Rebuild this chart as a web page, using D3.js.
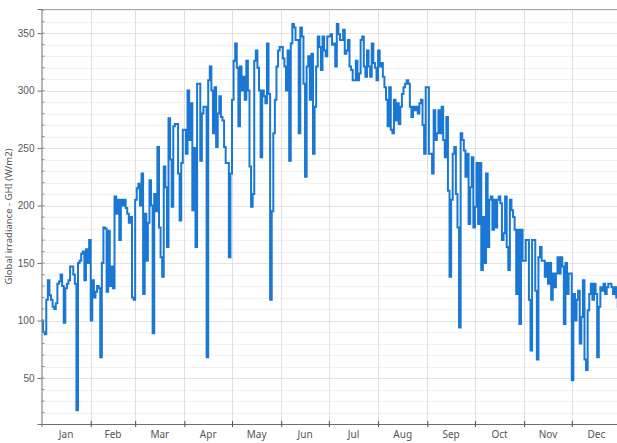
<!DOCTYPE html>
<html><head><meta charset="utf-8">
<script src="https://cdn.jsdelivr.net/npm/d3@7"></script>
<style>
html,body{margin:0;padding:0;background:#fff;}
svg{display:block;font-family:"Noto Sans","Open Sans",sans-serif;}
</style></head>
<body><div id="chart"></div>
<script>
// Daily global irradiance GHI (W/m2), one array per month
const jan = [100,90,88,118,135,122,118,112,110,115,132,134,140,130,98,128,132,135,147,147,140,132,22,150,152,158,160,135,162,150,170];
const feb = [100,135,120,125,130,128,68,150,181,180,125,178,130,147,128,208,193,205,170,205,200,205,198,193,185,190,120,118];
const mar = [205,215,219,200,228,123,193,152,185,222,200,89,210,195,251,181,155,138,234,216,164,276,240,199,269,271,271,228,187,237,266];
const apr = [266,245,300,257,289,196,250,164,306,306,239,280,286,286,68,309,321,300,263,303,251,280,295,277,274,251,237,237,155,228];
const may = [292,326,341,320,269,321,300,312,292,326,300,234,199,210,326,335,320,300,242,300,295,289,341,297,118,195,263,292,321,335,338];
const jun = [338,328,321,300,335,239,341,358,355,344,344,263,355,347,306,225,321,330,292,332,245,286,321,347,338,318,347,335,330,347];
const jul = [347,349,340,341,321,358,349,344,344,353,332,335,344,321,318,309,309,326,309,315,344,347,321,312,335,321,312,341,324,320,309];
const aug = [335,321,324,312,303,292,269,303,266,263,292,274,289,271,286,297,303,306,309,306,286,277,286,283,286,280,289,292,270,245,303];
const sep = [303,245,245,228,283,257,263,283,263,286,257,242,277,213,138,205,245,251,210,181,94,263,257,248,225,245,184,216,242,181];
const oct = [199,237,184,237,144,190,150,228,164,205,208,179,205,181,205,208,202,170,176,208,164,144,205,196,190,179,123,179,97,179,152];
const nov = [152,170,170,118,74,170,170,126,66,155,164,152,152,138,150,132,150,118,141,129,141,155,141,155,147,97,150,123,141,141];
const dec = [48,123,100,118,126,80,103,135,66,57,109,123,132,118,132,123,68,112,129,126,132,123,129,132,132,129,123,129,120,112,125];

const months = ["Jan","Feb","Mar","Apr","May","Jun","Jul","Aug","Sep","Oct","Nov","Dec"];
const monthDays = [31,28,31,30,31,30,31,31,30,31,30,31];
const yTicks = [50,100,150,200,250,300,350];

const values = [].concat(jan,feb,mar,apr,may,jun,jul,aug,sep,oct,nov,dec);
const data = values.map((v,i)=>({day:i,v:v}));
data.push({day:values.length, v:values[values.length-1]});

const W=617,H=443;
const m={left:41.5,top:9,bottom:424,right:621};
const svg=d3.select("#chart").append("svg").attr("width",W).attr("height",H);

const x=d3.scaleLinear().domain([0,365]).range([m.left,m.right]);
const y=d3.scaleLinear().domain([10,371]).range([m.bottom,m.top]);

const starts=[0]; monthDays.forEach((d,i)=>starts.push(starts[i]+d));
const bounds=starts.slice(1,12);

const g=svg.append("g");
const minor=d3.range(20,371,10).filter(v=>v%50!==0);
g.selectAll("line.mn").data(minor).enter().append("line")
 .attr("x1",m.left).attr("x2",W).attr("y1",d=>Math.round(y(d))+0.5).attr("y2",d=>Math.round(y(d))+0.5)
 .attr("stroke","#f1f1f1").attr("stroke-width",1);
g.selectAll("line.mj").data(yTicks).enter().append("line")
 .attr("x1",m.left).attr("x2",W).attr("y1",d=>Math.round(y(d))+0.5).attr("y2",d=>Math.round(y(d))+0.5)
 .attr("stroke","#e4e4e4").attr("stroke-width",1);
g.selectAll("line.vg").data(bounds).enter().append("line")
 .attr("x1",d=>Math.round(x(d))+0.5).attr("x2",d=>Math.round(x(d))+0.5).attr("y1",m.top).attr("y2",m.bottom)
 .attr("stroke","#e0e0e0").attr("stroke-width",1);

svg.append("line").attr("x1",m.left).attr("x2",W).attr("y1",m.top+0.5).attr("y2",m.top+0.5).attr("stroke","#a8a8a8");

const line=d3.line().x(d=>x(d.day)).y(d=>y(d.v)).curve(d3.curveStepAfter);
svg.append("path").datum(data).attr("d",line).attr("fill","none")
 .attr("stroke","#1a78d4").attr("stroke-width",2).attr("stroke-linejoin","miter");

const ya=svg.append("g").attr("transform",`translate(${m.left},0)`)
 .call(d3.axisLeft(y).tickValues(yTicks).tickSize(4).tickPadding(3));
ya.select(".domain").attr("stroke","#707070");
ya.selectAll(".tick line").attr("stroke","#707070");
ya.selectAll("text").attr("fill","#555").style("font-size","10px");
svg.append("g").selectAll("line").data(d3.range(20,371,10)).enter().append("line")
 .attr("x1",m.left).attr("x2",m.left+3).attr("y1",d=>y(d)).attr("y2",d=>y(d)).attr("stroke","#909090");

const xa=svg.append("g").attr("transform",`translate(0,${m.bottom})`)
 .call(d3.axisBottom(x).tickValues(bounds).tickSize(3).tickFormat(""));
xa.select(".domain").attr("stroke","#707070");
xa.selectAll(".tick line").attr("stroke","#505050").attr("y1",-3);
svg.append("g").selectAll("text").data(months).enter().append("text")
 .attr("x",(d,i)=>x((starts[i]+starts[i+1])/2)).attr("y",m.bottom+14)
 .attr("text-anchor","middle").attr("fill","#555").style("font-size","10px").text(d=>d);

svg.append("text").attr("transform",`translate(12,${(m.top+m.bottom)/2}) rotate(-90)`)
 .attr("text-anchor","middle").attr("fill","#555").style("font-size","9.5px")
 .text("Global irradiance - GHI (W/m2)");
</script></body></html>
